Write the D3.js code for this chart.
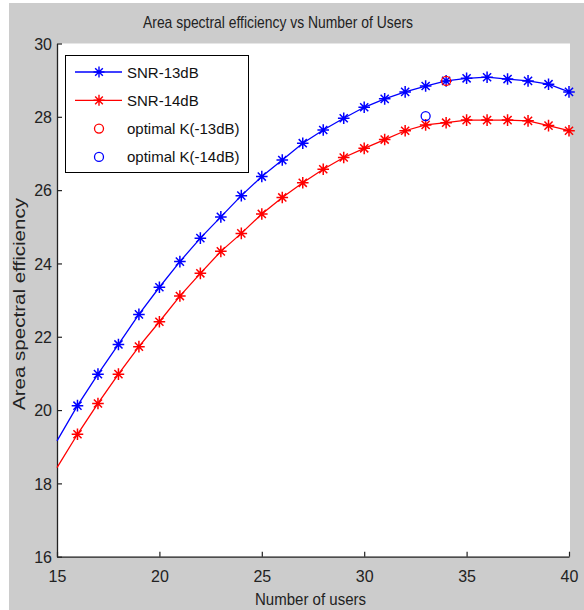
<!DOCTYPE html>
<html>
<head>
<meta charset="utf-8">
<script src="https://cdn.jsdelivr.net/npm/d3@7"></script>
<style>
  body { margin: 0; background: #fff; }
  text { font-family: "Liberation Sans", Arial, sans-serif; }
</style>
</head>
<body>
<svg id="chart" width="584" height="610"></svg>
<script>
// data
var users = [15,16,17,18,19,20,21,22,23,24,25,26,27,28,29,30,31,32,33,34,35,36,37,38,39,40];
var snr13 = [19.16,20.12,20.98,21.79,22.61,23.35,24.05,24.69,25.27,25.85,26.37,26.82,27.28,27.64,27.96,28.26,28.49,28.68,28.84,28.98,29.05,29.08,29.03,28.98,28.89,28.68];
var snr14 = [18.43,19.34,20.18,20.98,21.73,22.41,23.11,23.73,24.33,24.82,25.35,25.80,26.20,26.57,26.89,27.14,27.38,27.62,27.78,27.84,27.91,27.91,27.91,27.89,27.76,27.62];
var optimal13 = {k: 34, v: 28.98};
var optimal14 = {k: 33, v: 28.02};
var xTicks = [15,20,25,30,35,40];
var yTicks = [16,18,20,22,24,26,28,30];
var legendNames = ["SNR-13dB", "SNR-14dB", "optimal K(-13dB)", "optimal K(-14dB)"];

var svg = d3.select("#chart");

// grey figure background
svg.append("rect").attr("x", 9).attr("y", 3).attr("width", 575).attr("height", 607).attr("fill", "#cccccc");

var mLeft = 57, mRight = 569, mTop = 43.5, mBottom = 556.7;

var x = d3.scaleLinear().domain([15, 40]).range([mLeft, mRight]);
var y = d3.scaleLinear().domain([16, 30]).range([mBottom, mTop]);

svg.append("rect")
  .attr("x", mLeft).attr("y", mTop)
  .attr("width", mRight - mLeft + 1).attr("height", mBottom - mTop)
  .attr("fill", "#fff");

// axes, ticks inside
var xAxis = svg.append("g")
  .attr("transform", "translate(0," + mBottom + ")")
  .call(d3.axisBottom(x).tickValues(xTicks).tickSize(-5).tickPadding(10).tickSizeOuter(0));
var yAxis = svg.append("g")
  .attr("transform", "translate(" + mLeft + ",0)")
  .call(d3.axisLeft(y).tickValues(yTicks).tickSize(-5).tickPadding(5).tickSizeOuter(0));

[xAxis, yAxis].forEach(function(a) {
  a.select(".domain").attr("stroke", "#222").attr("stroke-width", 1.3);
  a.selectAll(".tick line").attr("stroke", "#222").attr("stroke-width", 1.2);
  a.selectAll(".tick text")
    .attr("fill", "#222")
    .style("font-family", "Liberation Sans, Arial, sans-serif")
    .style("font-size", "16px");
});
xAxis.selectAll(".tick text").attr("dy", "0.95em");
yAxis.selectAll(".tick text").attr("dy", "0.36em");

// star marker like matlab '*'
function star(cx, cy, r) {
  var d = "M" + (cx - r) + "," + cy + "L" + (cx + r) + "," + cy +
          "M" + cx + "," + (cy - r) + "L" + cx + "," + (cy + r);
  var a = r * 0.7;
  d += "M" + (cx - a) + "," + (cy - a) + "L" + (cx + a) + "," + (cy + a) +
       "M" + (cx - a) + "," + (cy + a) + "L" + (cx + a) + "," + (cy - a);
  return d;
}

var line = d3.line()
  .x(function(d, i) { return x(users[i]); })
  .y(function(d) { return y(d); });

function drawSeries(vals, color) {
  svg.append("path")
    .datum(vals)
    .attr("d", line)
    .attr("fill", "none")
    .attr("stroke", color)
    .attr("stroke-width", 1.3);
  svg.append("g").selectAll("path")
    .data(vals.slice(1))
    .enter().append("path")
    .attr("d", function(d, i) { return star(x(users[i + 1]), y(d), 5.8); })
    .attr("stroke", color)
    .attr("stroke-width", 1.5)
    .attr("fill", "none");
}

drawSeries(snr13, "#0000ff");
drawSeries(snr14, "#ff0000");

svg.append("circle")
  .attr("cx", x(optimal13.k)).attr("cy", y(optimal13.v))
  .attr("r", 4.5).attr("fill", "none").attr("stroke", "#ff0000").attr("stroke-width", 1.3);
svg.append("circle")
  .attr("cx", x(optimal14.k)).attr("cy", y(optimal14.v))
  .attr("r", 4.5).attr("fill", "none").attr("stroke", "#0000ff").attr("stroke-width", 1.3);

// legend
var lg = svg.append("g");
lg.append("rect")
  .attr("x", 65.5).attr("y", 55.5).attr("width", 183).attr("height", 117)
  .attr("fill", "#fff").attr("stroke", "#000").attr("stroke-width", 1);

var legendColors = ["#0000ff", "#ff0000", "#ff0000", "#0000ff"];
legendNames.forEach(function(name, i) {
  var ly = 72 + i * 28.3;
  if (i < 2) {
    lg.append("line")
      .attr("x1", 75).attr("x2", 122).attr("y1", ly).attr("y2", ly)
      .attr("stroke", legendColors[i]).attr("stroke-width", 1.3);
    lg.append("path")
      .attr("d", star(99, ly, 5.5))
      .attr("stroke", legendColors[i]).attr("stroke-width", 1.4).attr("fill", "none");
  } else {
    lg.append("circle")
      .attr("cx", 99).attr("cy", ly).attr("r", 4.5)
      .attr("fill", "none").attr("stroke", legendColors[i]).attr("stroke-width", 1.3);
  }
  lg.append("text")
    .attr("x", 127).attr("y", ly + 5.5)
    .attr("font-size", 15)
    .attr("fill", "#111")
    .text(name);
});

// title and axis labels
svg.append("text")
  .attr("x", 143).attr("y", 28)
  .attr("font-size", 17)
  .attr("textLength", 270)
  .attr("lengthAdjust", "spacingAndGlyphs")
  .attr("fill", "#222")
  .text("Area spectral efficiency  vs Number of Users");

svg.append("text")
  .attr("x", 255).attr("y", 605)
  .attr("font-size", 16)
  .attr("textLength", 111)
  .attr("lengthAdjust", "spacingAndGlyphs")
  .attr("fill", "#222")
  .text("Number of users");

svg.append("text")
  .attr("transform", "translate(25,410) rotate(-90)")
  .attr("font-size", 17)
  .attr("textLength", 212)
  .attr("lengthAdjust", "spacingAndGlyphs")
  .attr("fill", "#222")
  .text("Area spectral efficiency");
</script>
</body>
</html>
